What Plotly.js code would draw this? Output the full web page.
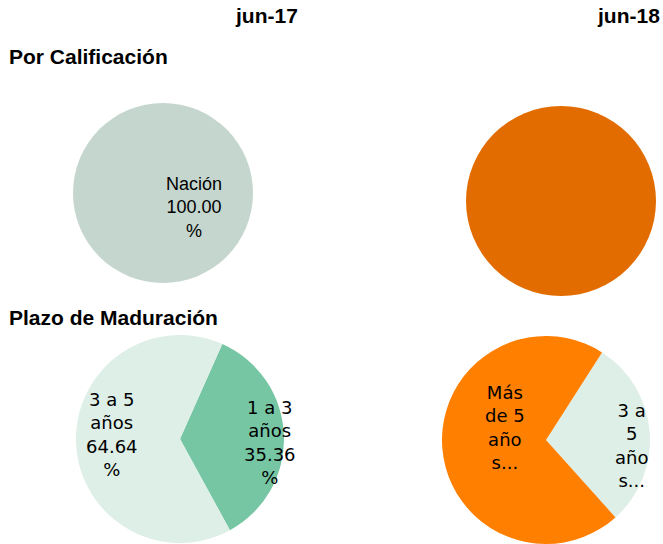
<!DOCTYPE html>
<html>
<head>
<meta charset="utf-8">
<script src="https://cdn.plot.ly/plotly-3.0.1.min.js"></script>
<style>html,body{margin:0;padding:0;background:#fff;}#chart{width:663px;height:544px;}</style>
</head>
<body>
<div id="chart"></div>
<script>
// Data
const periods = ['jun-17', 'jun-18'];
const sections = ['Por Calificación', 'Plazo de Maduración'];

const calif17Labels = ['Nación'];
const calif17Values = [100.00];
const calif18Labels = ['Nación'];
const calif18Values = [100.00];

const plazo17Labels = ['1 a 3 años', '3 a 5 años'];
const plazo17Values = [35.36, 64.64];
const plazo18Labels = ['3 a 5 años', 'Más de 5 años'];
const plazo18Values = [29.3, 70.7];

// Displayed (wrapped / truncated) slice texts as in the original
const calif17Text = ['Nación<br>100.00<br>%'];
const plazo17Text = ['1 a 3<br>años<br>35.36<br>%', '3 a 5<br>años<br>64.64<br>%'];
const plazo18Text = ['3 a<br>5<br>año<br>s...', 'Más<br>de 5<br>año<br>s...'];

const W = 663, H = 544;
function dom(cx, cy, r) {
  return { x: [(cx - r) / W, (cx + r) / W], y: [(H - cy - r) / H, (H - cy + r) / H] };
}

const common = { type: 'pie', sort: false, textinfo: 'none', hoverinfo: 'label+percent', showlegend: false };

const traces = [
  Object.assign({}, common, { labels: calif17Labels, values: calif17Values, domain: dom(163, 193, 90),
    marker: { colors: ['#C4D6CE'], line: { width: 0 } } }),
  Object.assign({}, common, { labels: calif18Labels, values: calif18Values, domain: dom(561, 201, 95),
    marker: { colors: ['#E36C00'], line: { width: 0 } } }),
  Object.assign({}, common, { labels: plazo17Labels, values: plazo17Values, domain: dom(180, 439, 104),
    direction: 'clockwise', rotation: 24, marker: { colors: ['#76C6A4', '#DDEFE6'], line: { width: 0 } } }),
  Object.assign({}, common, { labels: plazo18Labels, values: plazo18Values, domain: dom(546, 440, 104),
    direction: 'clockwise', rotation: 32.6, marker: { colors: ['#DDEFE6', '#FF7F00'], line: { width: 0 } } })
];

function ann(text, x, y, font, extra) {
  return Object.assign({ text: text, x: x / W, y: 1 - y / H, xref: 'paper', yref: 'paper',
    showarrow: false, font: font, xanchor: 'center', yanchor: 'middle', align: 'center' }, extra || {});
}
const hdrFont = { family: 'Liberation Sans, Arial, sans-serif', size: 21, color: '#000' };
const lblFontA = { family: 'Liberation Sans, Arial, sans-serif', size: 18, color: '#000' };
const lblFontV = { family: 'DejaVu Sans, Verdana, sans-serif', size: 18, color: '#000' };

const annotations = [
  ann('<b>' + periods[0] + '</b>', 266, 15, hdrFont),
  ann('<b>' + periods[1] + '</b>', 662, 15, hdrFont, { xanchor: 'right' }),
  ann('<b>' + sections[0] + '</b>', 7, 57, hdrFont, { xanchor: 'left' }),
  ann('<b>' + sections[1] + '</b>', 7, 317, hdrFont, { xanchor: 'left' }),
  ann(calif17Text[0], 194, 207, lblFontA),
  ann(plazo17Text[0], 270, 442, lblFontV),
  ann(plazo17Text[1], 112, 434, lblFontV),
  ann(plazo18Text[0], 631, 445, lblFontV),
  ann(plazo18Text[1], 505, 427, lblFontV)
];

Plotly.newPlot('chart', traces, {
  width: W, height: H, margin: { l: 0, r: 0, t: 0, b: 0 },
  paper_bgcolor: '#fff', plot_bgcolor: '#fff', annotations: annotations
}, { displayModeBar: false, staticPlot: true });
</script>
</body>
</html>
